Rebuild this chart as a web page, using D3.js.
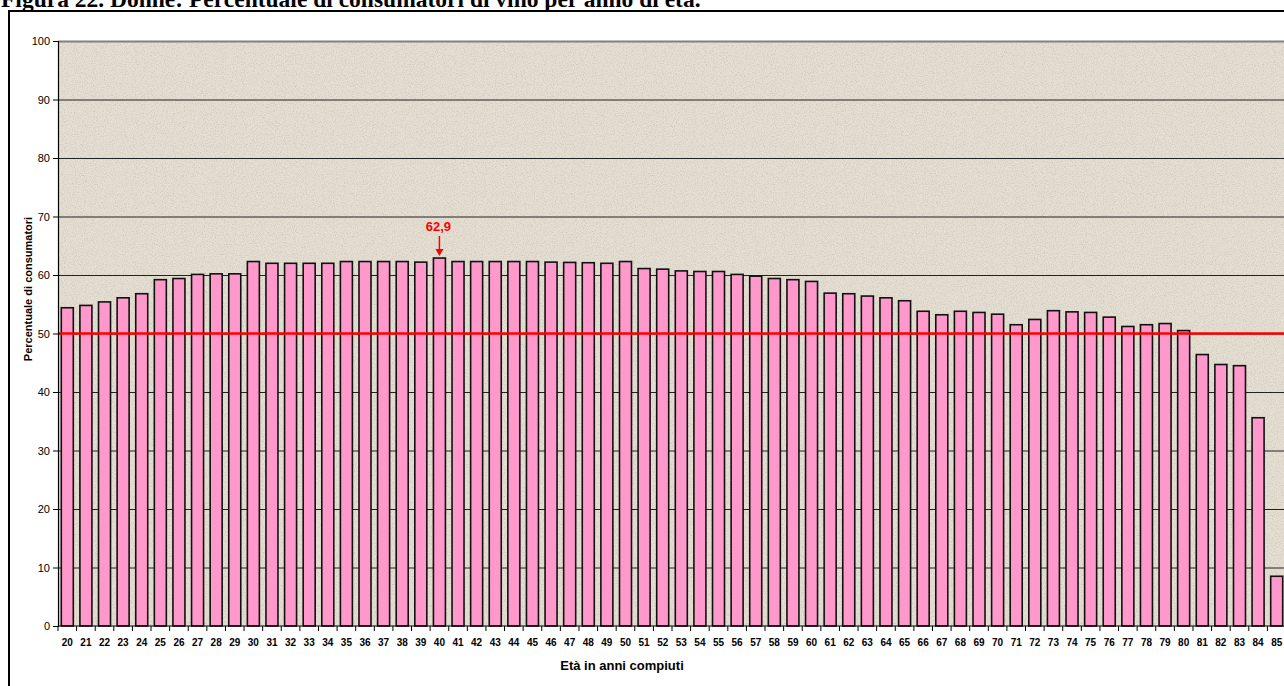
<!DOCTYPE html>
<html>
<head>
<meta charset="utf-8">
<script src="https://cdn.jsdelivr.net/npm/d3@7"></script>
<style>
  body { margin: 0; background: #fff; }
  svg { display: block; }
  text { font-family: "Liberation Sans", Arial, sans-serif; }
</style>
</head>
<body>
<div id="vis"></div>
<script>
// data: percentuale di consumatrici di vino per anno di età
var ages = d3.range(20, 86).map(String);
var values = [
    54.4, 54.8, 55.4, 56.1, 56.8, 59.2, 59.4, 60.1, 60.2, 60.2,
    62.3, 62.0, 62.0, 62.0, 62.0, 62.3, 62.3, 62.3, 62.3, 62.2,
    62.9, 62.3, 62.3, 62.3, 62.3, 62.3, 62.2, 62.15, 62.1, 62.0,
    62.3, 61.1, 61.0, 60.7, 60.6, 60.6, 60.1, 59.8, 59.4, 59.2,
    58.9, 56.9, 56.8, 56.4, 56.1, 55.6, 53.8, 53.2, 53.8, 53.6,
    53.3, 51.5, 52.4, 53.9, 53.7, 53.6, 52.8, 51.2, 51.5, 51.7,
    50.5, 46.4, 44.7, 44.5, 35.6, 8.5
];
var yTicks = [0, 10, 20, 30, 40, 50, 60, 70, 80, 90, 100];
var refLine = [50];
var highlight = {age: '40', label: '62,9'};

var width = 1284;
var height = 686;
var plot = {left: 58, top: 41, right: 1286, bottom: 626};

var svg = d3.select('#vis')
    .append('svg')
    .attr('width', width)
    .attr('height', height);

// speckled paper texture
var defs = svg.append('defs');
var filt = defs.append('filter').attr('id', 'paper')
    .attr('x', 0).attr('y', 0).attr('width', 1).attr('height', 1);
filt.append('feTurbulence')
    .attr('type', 'fractalNoise')
    .attr('baseFrequency', 0.9)
    .attr('numOctaves', 2)
    .attr('seed', 3)
    .attr('result', 'noise');
filt.append('feColorMatrix')
    .attr('in', 'noise')
    .attr('type', 'matrix')
    .attr('values', '0 0 0 0 0.45  0 0 0 0 0.40  0 0 0 0 0.33  0 0 0 -2.2 1.25')
    .attr('result', 'specks');
filt.append('feComposite')
    .attr('in', 'specks')
    .attr('in2', 'SourceGraphic')
    .attr('operator', 'in');

// title (cut at the top of the page, as in the source)
svg.append('text')
    .attr('x', 1)
    .attr('y', 7)
    .style('font-family', '"Liberation Serif", "Times New Roman", serif')
    .style('font-weight', 'bold')
    .style('font-size', '23.5px')
    .text('Figura 22. Donne: Percentuale di consumatori di vino per anno di età.');

// outer frame
svg.append('path')
    .attr('d', 'M9,' + (height + 5) + 'V11H' + (width + 5))
    .attr('fill', 'none')
    .attr('stroke', '#000')
    .attr('stroke-width', 2);

var x = d3.scaleBand()
    .domain(ages)
    .range([plot.left, plot.right])
    .paddingInner(0.355)
    .paddingOuter(0.1775);

var y = d3.scaleLinear()
    .domain([0, 100])
    .range([plot.bottom, plot.top]);

// plot background
svg.append('rect')
    .attr('x', plot.left)
    .attr('y', plot.top)
    .attr('width', plot.right - plot.left)
    .attr('height', plot.bottom - plot.top)
    .attr('fill', '#e5dfd3');
svg.append('rect')
    .attr('x', plot.left)
    .attr('y', plot.top)
    .attr('width', plot.right - plot.left)
    .attr('height', plot.bottom - plot.top)
    .attr('fill', '#fff')
    .attr('opacity', 0.45)
    .attr('filter', 'url(#paper)');

// gridlines
svg.append('g')
    .selectAll('line')
    .data(yTicks.filter(function (d) { return d > 0; }))
    .enter().append('line')
    .attr('x1', plot.left)
    .attr('x2', plot.right)
    .attr('y1', function (d) { return y(d) + 0.5; })
    .attr('y2', function (d) { return y(d) + 0.5; })
    .attr('stroke', function (d) { return d === 100 ? '#808080' : '#222'; })
    .attr('stroke-width', function (d) { return d === 100 ? 2 : 1; });

// bars
svg.append('g')
    .selectAll('rect')
    .data(values)
    .enter().append('rect')
    .attr('x', function (d, i) { return x(ages[i]); })
    .attr('y', function (d) { return y(d); })
    .attr('width', x.bandwidth())
    .attr('height', function (d) { return y(0) - y(d); })
    .attr('fill', '#ff99cc')
    .attr('stroke', '#111')
    .attr('stroke-width', 1.6);

// reference line at 50
svg.append('g')
    .selectAll('line')
    .data(refLine)
    .enter().append('line')
    .attr('x1', plot.left)
    .attr('x2', plot.right)
    .attr('y1', function (d) { return y(d); })
    .attr('y2', function (d) { return y(d); })
    .attr('stroke', '#ff0000')
    .attr('stroke-width', 2.5);

// y axis
var yAxis = svg.append('g')
    .attr('transform', 'translate(' + plot.left + ',0)')
    .call(d3.axisLeft(y).tickValues(yTicks).tickSize(5).tickPadding(3));
yAxis.select('.domain').attr('stroke', '#000').attr('stroke-width', 1.2);
yAxis.selectAll('text').style('font-size', '11px').attr('fill', '#000');

// x axis: ticks between bars
var step = x.step();
var bounds = d3.range(ages.length + 1).map(function (i) { return plot.left + i * step; });
svg.append('line')
    .attr('x1', plot.left).attr('x2', plot.right)
    .attr('y1', plot.bottom).attr('y2', plot.bottom)
    .attr('stroke', '#000').attr('stroke-width', 1.2);
svg.append('g')
    .selectAll('line')
    .data(bounds)
    .enter().append('line')
    .attr('x1', function (d) { return d; })
    .attr('x2', function (d) { return d; })
    .attr('y1', plot.bottom)
    .attr('y2', plot.bottom + 5)
    .attr('stroke', '#000');
svg.append('g')
    .selectAll('text')
    .data(ages)
    .enter().append('text')
    .attr('x', function (d) { return x(d) + x.bandwidth() / 2; })
    .attr('y', 646)
    .attr('text-anchor', 'middle')
    .style('font-size', '10px')
    .style('font-weight', 'bold')
    .text(function (d) { return d; });

// axis titles
svg.append('text')
    .attr('x', 622)
    .attr('y', 670)
    .attr('text-anchor', 'middle')
    .style('font-size', '13px')
    .style('font-weight', 'bold')
    .text('Età in anni compiuti');

svg.append('text')
    .attr('transform', 'translate(32,289) rotate(-90)')
    .attr('text-anchor', 'middle')
    .style('font-size', '11px')
    .style('font-weight', 'bold')
    .text('Percentuale di consumatori');

// annotation on the maximum
var hx = x(highlight.age) + x.bandwidth() / 2;
var hv = values[ages.indexOf(highlight.age)];
svg.append('text')
    .attr('x', hx - 1)
    .attr('y', 231)
    .attr('text-anchor', 'middle')
    .attr('fill', '#ff0000')
    .style('font-size', '13px')
    .style('font-weight', 'bold')
    .text(highlight.label);
svg.append('line')
    .attr('x1', hx).attr('x2', hx)
    .attr('y1', 236).attr('y2', y(hv) - 8)
    .attr('stroke', '#ff0000')
    .attr('stroke-width', 1.5);
svg.append('path')
    .attr('d', 'M' + (hx - 4) + ',' + (y(hv) - 9) + 'L' + (hx + 4) + ',' + (y(hv) - 9) + 'L' + hx + ',' + (y(hv) - 2) + 'Z')
    .attr('fill', '#ff0000');
</script>
</body>
</html>
